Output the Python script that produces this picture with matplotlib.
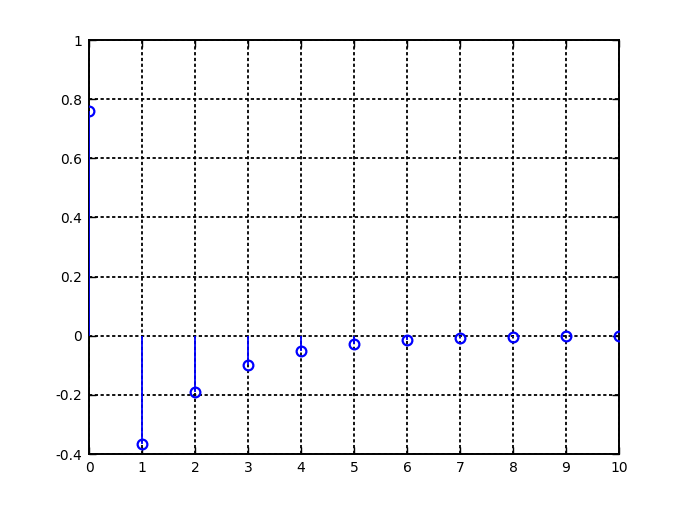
import numpy as np
import matplotlib
matplotlib.use("Agg")
import matplotlib.pyplot as plt

# stem values
n = [0, 1, 2, 3, 4, 5, 6, 7, 8, 9, 10]
values = [0.76, -0.365, -0.19, -0.1, -0.051, -0.027, -0.0135, -0.007, -0.0035, -0.0018, -0.0009]

xticks = list(range(0, 11))
yticks = [-0.4, -0.2, 0, 0.2, 0.4, 0.6, 0.8, 1]
ytick_labels = ["-0.4", "-0.2", "0", "0.2", "0.4", "0.6", "0.8", "1"]

fig = plt.figure(figsize=(6.88, 5.16), dpi=100)
ax = fig.add_axes([89 / 688, 62 / 516, 530 / 688, 414 / 516])

markerline, stemlines, baseline = ax.stem(n, values, linefmt="b-", markerfmt="bo", basefmt=" ")
plt.setp(stemlines, linewidth=1.3, color="#0000ff", zorder=3)
plt.setp(markerline, markersize=7, markerfacecolor="none", markeredgecolor="#0000ff",
         markeredgewidth=1.6, zorder=3)
markerline.set_clip_on(True)
markerline.set_clip_path(ax.patch)

ax.set_xlim(0, 10)
ax.set_ylim(-0.4, 1)
ax.set_xticks(xticks)
ax.set_yticks(yticks)
ax.set_yticklabels(ytick_labels)
ax.grid(True, color="black", linestyle=(0, (1.8, 1.4)), linewidth=1.3)
ax.set_axisbelow(True)
ax.tick_params(direction="in", top=True, right=True, length=5, width=1, labelsize=10, pad=5)
for s in ax.spines.values():
    s.set_linewidth(1.4)

fig.savefig("out.png", dpi=100)
